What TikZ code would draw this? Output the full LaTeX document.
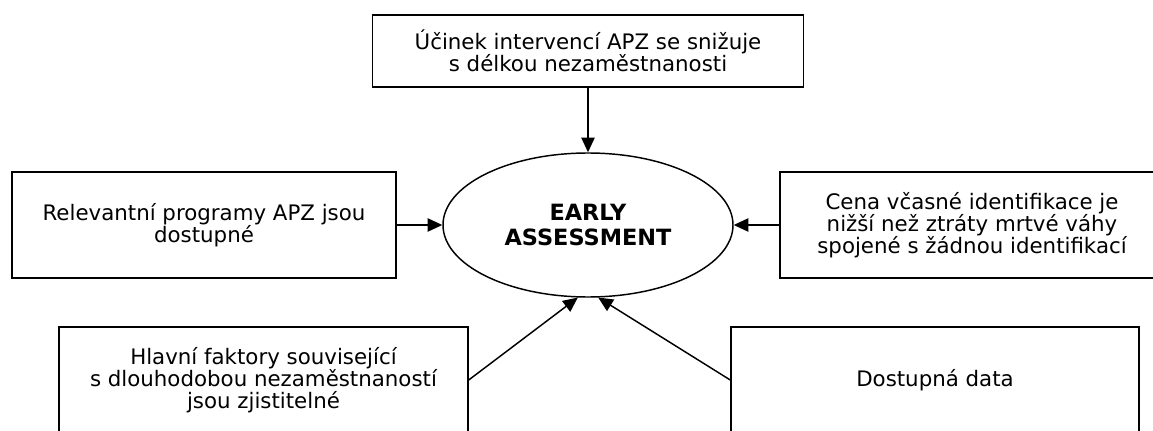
\documentclass[tikz,border=0pt]{standalone}
\usepackage{fontspec}
\setmainfont{DejaVu Sans}
\usetikzlibrary{shapes.geometric, arrows.meta}
\tikzstyle{factor} = [rectangle, minimum height=79.5pt,
                      align=center, draw=black,
                      inner sep=0pt, line width=1.1pt,
                      font=\fontsize{16}{16.5}\selectfont]
\tikzstyle{goal} = [ellipse, minimum width=217.5pt, minimum height=108pt,
                    align=center, draw=black,
                    inner sep=0pt, line width=1.1pt,
                    font=\fontsize{16.8}{18.75}\selectfont\bfseries]
\tikzstyle{arrow} = [line width=1.1pt,-{Triangle[length=11pt,width=10pt]}]

\begin{document}
\begin{tikzpicture}[node distance=2cm]
        \useasboundingbox (0,0) rectangle (864.75pt,-323.25pt);

        \node (Assessment) [goal] at (441pt,-168.75pt) {EARLY\\ASSESSMENT};

        \node (Effect) [factor, node distance=130.5pt, above of = Assessment, minimum width=323.25pt, minimum height=54pt] {Účinek intervencí APZ se snižuje\\s délkou nezaměstnanosti};

        \node (Programs) [factor, node distance=288pt, left of = Assessment, minimum width=288pt] {Relevantní programy APZ jsou\\dostupné};

        \node (Cost) [factor, node distance=288pt, right of = Assessment, minimum width=288pt] {Cena včasné identifikace je\\nižší než ztráty mrtvé váhy\\spojené s žádnou identifikací};

        \node (Factors) [factor, node distance=116.25pt, below of = Assessment, xshift=-243.4pt, minimum width=306.75pt] {Hlavní faktory související\\s dlouhodobou nezaměstnaností\\jsou zjistitelné};

        \node (Data) [factor, node distance=116.25pt, below of = Assessment, xshift=260.25pt, minimum width=306pt] {Dostupná data};

        \draw [arrow] (Effect) -- (Assessment);
        \draw [arrow] (Programs) -- (Assessment);
        \draw [arrow] (Cost) -- (Assessment);
        \draw [arrow] (Factors.east) -- (Assessment.262);
        \draw [arrow] (Data.west) -- (Assessment.278);

    \end{tikzpicture}
\end{document}
